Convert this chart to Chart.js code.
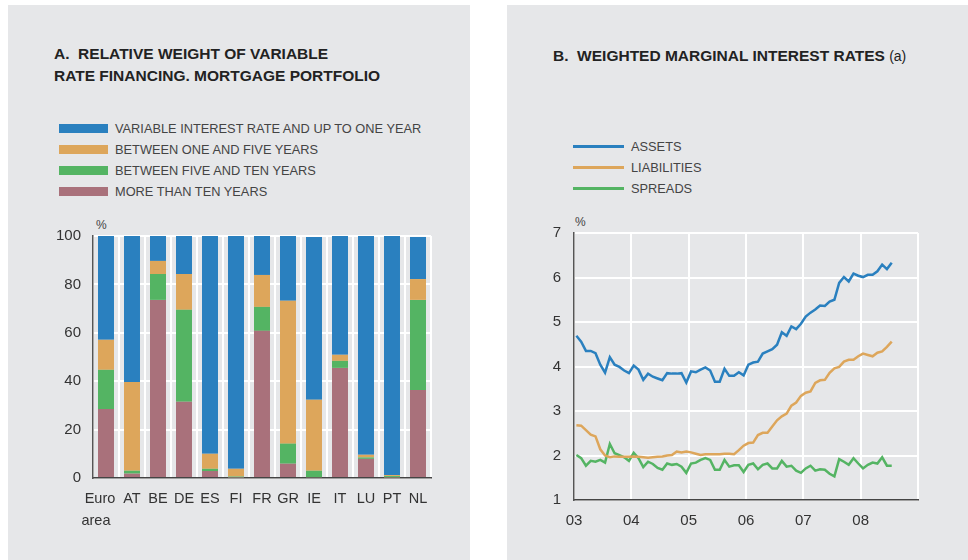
<!DOCTYPE html>
<html><head><meta charset="utf-8">
<script src="https://cdn.jsdelivr.net/npm/chart.js@4.4.1/dist/chart.umd.min.js"></script>
<style>
body{margin:0;width:968px;height:560px;background:#fff;position:relative;overflow:hidden;font-family:"Liberation Sans",Arial,sans-serif;}
.panel{position:absolute;top:5px;height:555px;background:#e6e7e9;}
.title{position:absolute;font-weight:bold;font-size:15.5px;color:#222;line-height:22px;white-space:nowrap;}
.title span{font-weight:normal;font-size:14px;}
.leg{position:absolute;font-size:12.8px;color:#444;white-space:nowrap;}
.row{position:relative;height:21px;line-height:21px;}
.sw{position:absolute;left:0;top:6px;width:49px;height:9px;}
.ln{position:absolute;left:0;top:9px;width:51px;height:3px;}
.unit{position:absolute;font-size:12px;color:#444;}
canvas{position:absolute;}
</style>
</head><body>
<div class="panel" style="left:8px;width:462px;"></div>
<div class="panel" style="left:507px;width:461px;"></div>

<div class="title" style="left:54px;top:43px;">A.&nbsp; RELATIVE WEIGHT OF VARIABLE<br>RATE FINANCING. MORTGAGE PORTFOLIO</div>
<div class="title" style="left:553px;top:44.5px;">B.&nbsp; WEIGHTED MARGINAL INTEREST RATES <span>(a)</span></div>

<div class="leg" id="legA" style="left:59px;top:118px;"></div>
<div class="leg" id="legB" style="left:573px;top:135.5px;"></div>

<div class="unit" style="left:96px;top:218px;">%</div>
<div class="unit" style="left:575px;top:215px;">%</div>

<canvas id="cA" width="420" height="325" style="left:40px;top:215px;width:420px;height:325px;"></canvas>
<canvas id="cB" width="461" height="334" style="left:507px;top:211px;width:461px;height:334px;"></canvas>

<script>
// ---- Panel A data (percent of mortgage portfolio) ----
const categories = [['Euro','area'],'AT','BE','DE','ES','FI','FR','GR','IE','IT','LU','PT','NL'];
const moreThanTen = [28.5,1.8,73.6,31.5,2.9,0.2,60.8,5.9,0.3,45.5,7.9,0.2,36.4];
const fiveToTen   = [16.2,1.2,10.7,38.0,0.9,0.4,9.9,8.3,2.7,2.9,0.6,0.6,37.2];
const oneToFive   = [12.4,36.7,5.4,14.8,6.2,3.2,13.2,59.0,29.3,2.5,1.1,0.4,8.6];
const variable    = [42.9,60.3,10.3,15.7,90.0,96.2,16.1,26.8,67.3,49.1,90.4,98.8,17.4];
const yTicksA = [0,20,40,60,80,100];

// ---- Panel B data (monthly, Jan 2003 - Jul 2008, %) ----
const startYear = 2003;
const assets = [4.69,4.56,4.35,4.35,4.30,4.04,3.86,4.21,4.04,3.99,3.91,3.85,4.02,3.93,3.70,3.84,3.77,3.73,3.69,3.85,
  3.84,3.84,3.85,3.64,3.89,3.87,3.93,3.98,3.91,3.66,3.66,3.95,3.79,3.79,3.87,3.80,4.04,4.09,4.11,4.29,
  4.34,4.39,4.49,4.77,4.69,4.90,4.84,4.96,5.12,5.21,5.28,5.37,5.36,5.46,5.50,5.88,6.01,5.91,6.09,6.04,
  6.01,6.06,6.06,6.14,6.29,6.19,6.33];
const liabilities = [2.68,2.67,2.57,2.47,2.43,2.14,2.00,1.96,1.98,1.97,1.97,1.97,1.98,1.97,1.96,1.95,1.96,1.97,1.98,2.00,
  2.01,2.09,2.07,2.09,2.07,2.04,2.01,2.03,2.03,2.03,2.03,2.04,2.04,2.03,2.12,2.22,2.28,2.29,2.46,2.51,
  2.51,2.65,2.79,2.88,2.94,3.12,3.19,3.34,3.41,3.44,3.63,3.69,3.70,3.86,3.96,3.99,4.11,4.15,4.15,4.23,
  4.29,4.26,4.23,4.31,4.34,4.44,4.56];
const spreads = [2.01,1.94,1.77,1.88,1.86,1.90,1.84,2.26,2.05,2.01,1.96,1.88,2.06,1.94,1.74,1.86,1.81,1.72,1.68,1.82,
  1.79,1.81,1.75,1.61,1.82,1.84,1.90,1.94,1.90,1.68,1.68,1.90,1.75,1.78,1.78,1.63,1.79,1.82,1.69,1.79,
  1.82,1.71,1.71,1.88,1.75,1.77,1.66,1.61,1.71,1.77,1.66,1.69,1.68,1.59,1.53,1.92,1.86,1.79,1.94,1.82,
  1.71,1.79,1.84,1.82,1.96,1.77,1.77];
const yearTicks = ['03','04','05','06','07','08'];

const C = {blue:'#2a80bf', orange:'#dda65b', green:'#54b463', pink:'#a9717b'};
const FONT = '"Liberation Sans", Arial, sans-serif';

// legends (HTML)
const legAItems = [['VARIABLE INTEREST RATE AND UP TO ONE YEAR',C.blue],['BETWEEN ONE AND FIVE YEARS',C.orange],
  ['BETWEEN FIVE AND TEN YEARS',C.green],['MORE THAN TEN YEARS',C.pink]];
document.getElementById('legA').innerHTML = legAItems.map(([t,c]) =>
  `<div class="row"><div class="sw" style="background:${c}"></div><span style="margin-left:56px">${t}</span></div>`).join('');
const legBItems = [['ASSETS',C.blue],['LIABILITIES',C.orange],['SPREADS',C.green]];
document.getElementById('legB').innerHTML = legBItems.map(([t,c]) =>
  `<div class="row"><div class="ln" style="background:${c}"></div><span style="margin-left:58px">${t}</span></div>`).join('');

Chart.defaults.font.family = FONT;
Chart.defaults.color = '#333';

new Chart(document.getElementById('cA'), {
  type: 'bar',
  data: {
    labels: categories,
    datasets: [
      {label:'MORE THAN TEN YEARS', data: moreThanTen, backgroundColor: C.pink},
      {label:'BETWEEN FIVE AND TEN YEARS', data: fiveToTen, backgroundColor: C.green},
      {label:'BETWEEN ONE AND FIVE YEARS', data: oneToFive, backgroundColor: C.orange},
      {label:'VARIABLE INTEREST RATE AND UP TO ONE YEAR', data: variable, backgroundColor: C.blue}
    ]
  },
  options: {
    responsive:false, animation:false, devicePixelRatio:1,
    barPercentage: 0.615, categoryPercentage: 1.0,
    layout:{padding:{top:11,right:29,bottom:0,left:0}},
    plugins:{legend:{display:false}, tooltip:{enabled:false}},
    scales:{
      x:{stacked:true,
         grid:{color:'#ffffff',lineWidth:2,drawTicks:false,offset:true},
         border:{color:'#444',width:1.5},
         ticks:{font:{size:14.5,lineHeight:1.5},color:'#333',padding:10,maxRotation:0,autoSkip:false,
                // first label is left-aligned as a block in the original
                callback(v,i){ const l = categories[i]; return Array.isArray(l) ? [l[0]+'   ', l[1]+'     '] : l; }},
         afterFit(s){s.height=62;}},
      y:{stacked:true,min:0,max:100,
         grid:{color:'#ffffff',lineWidth:2,drawTicks:false},
         border:{color:'#555',width:1.5},
         afterBuildTicks(s){s.ticks = yTicksA.map(v=>({value:v}));},
         ticks:{font:{size:15},color:'#333',padding:12},
         afterFit(s){s.width=53;}}
    }
  }
});

const toPoints = arr => arr.map((v,i)=>({x:startYear+(i+0.5)/12, y:v}));
new Chart(document.getElementById('cB'), {
  type:'line',
  data:{datasets:[
    {label:'ASSETS',data:toPoints(assets),borderColor:C.blue},
    {label:'LIABILITIES',data:toPoints(liabilities),borderColor:C.orange},
    {label:'SPREADS',data:toPoints(spreads),borderColor:C.green}
  ]},
  options:{
    responsive:false, animation:false, devicePixelRatio:1,
    elements:{point:{radius:0},line:{borderWidth:2.5,tension:0}},
    layout:{padding:{top:14,right:50,bottom:0,left:0}},
    plugins:{legend:{display:false}, tooltip:{enabled:false}},
    scales:{
      x:{type:'linear',min:2003,max:2009,
         grid:{color:'#ffffff',lineWidth:2,drawTicks:false},
         border:{color:'#444',width:1.5},
         ticks:{stepSize:1,font:{size:15},color:'#333',padding:12,
                callback:(v,i)=> yearTicks[i] !== undefined ? yearTicks[i] : ''},
         afterFit(s){s.height=45;}},
      y:{min:1,max:7,
         grid:{color:'#ffffff',lineWidth:2,drawTicks:false},
         border:{color:'#555',width:1.5},
         ticks:{stepSize:1,font:{size:15},color:'#333',padding:13},
         afterFit(s){s.width=67;}}
    }
  }
});
</script>
</body></html>
